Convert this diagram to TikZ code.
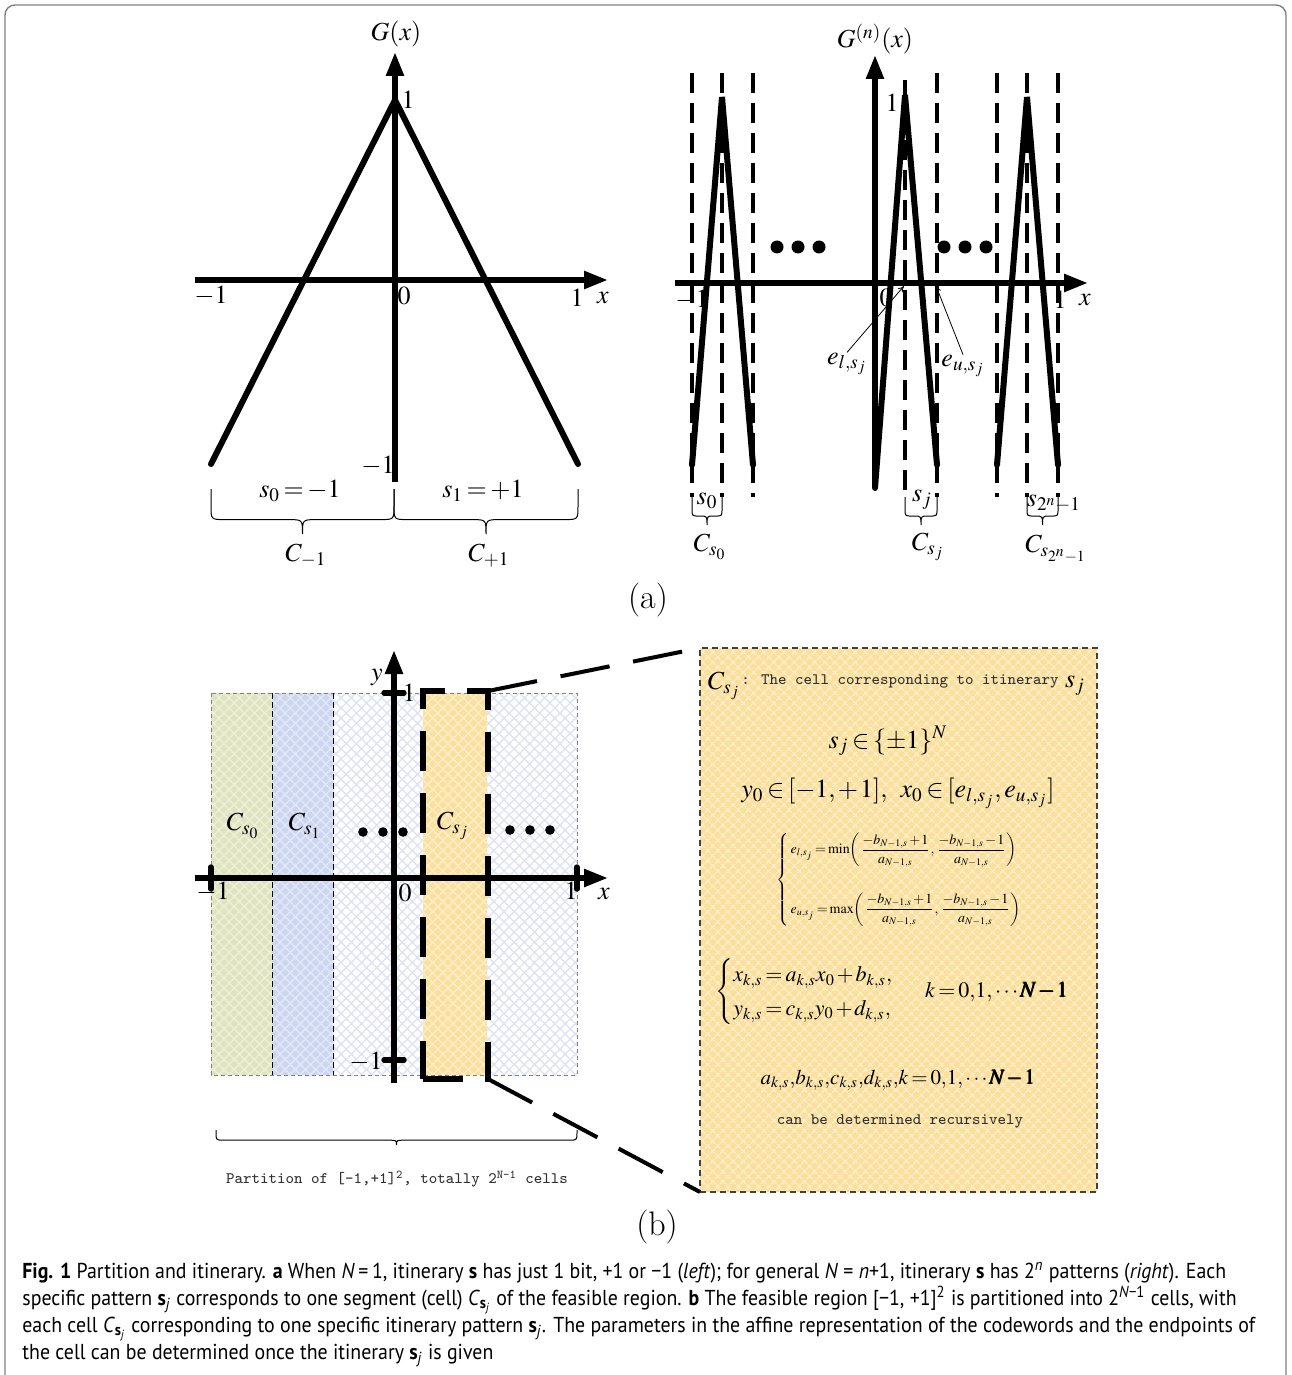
\documentclass[tikz,border=0pt]{standalone}
\usepackage{amsmath}
\usepackage{mathptmx}
\usepackage[no-math]{fontspec}
\renewcommand{\rmdefault}{lmr}
\newfontfamily\capfont[FakeStretch=0.92]{PT Sans}
\usetikzlibrary{arrows.meta,patterns.meta}

\definecolor{cellgreen}{HTML}{DFE3BE}
\definecolor{cellblue}{HTML}{CCD6F0}
\definecolor{cellyellow}{HTML}{FBE09D}
\definecolor{hatchblue}{HTML}{DDE3F3}
\definecolor{framegray}{HTML}{7F7F7F}
\definecolor{monogray}{HTML}{303030}

\newcommand{\tightmath}{\thickmuskip=2.5mu\medmuskip=1.5mu}

\tikzset{
  thickline/.style={line width=3pt, line cap=round},
  axisline/.style={line width=2.7pt, -{Triangle[length=12pt,width=8.5pt]}},
  tickline/.style={line width=2.7pt, line cap=round},
  celldash/.style={line width=2pt, dash pattern=on 10pt off 5pt},
  framedash/.style={line width=2.6pt, dash pattern=on 20pt off 11pt},
  zoomdash/.style={line width=2pt, dash pattern=on 25pt off 12pt},
  thinbrace/.style={line width=0.5pt},
  thinarrow/.style={line width=0.4pt, -{To[length=3pt,width=3pt]}},
  lab/.style={inner sep=0pt, font=\fontsize{13}{15}\selectfont\tightmath},
  boxmath/.style={inner sep=0pt, font=\fontsize{13}{16}\selectfont\tightmath},
  monotext/.style={inner sep=0pt, text=monogray, font=\fontsize{8}{10}\selectfont\ttfamily},
  hatchcell/.style={pattern={Hatch[angle=45,distance=3.6pt,line width=0.7pt]}, pattern color=#1},
}

% brace opening downwards: [style] x1, x2, top, depth, corner
\newcommand{\cellbrace}[6][]{%
  \draw[#1] (#2,#4) -- (#2,#4+0.68*#5-#6)
    .. controls (#2,#4+0.68*#5) .. (#2+#6,#4+0.68*#5)
    -- ({(#2+#3)/2-#6},#4+0.68*#5)
    .. controls ({(#2+#3)/2},#4+0.68*#5) .. ({(#2+#3)/2},#4+#5)
    .. controls ({(#2+#3)/2},#4+0.68*#5) .. ({(#2+#3)/2+#6},#4+0.68*#5)
    -- (#3-#6,#4+0.68*#5)
    .. controls (#3,#4+0.68*#5) .. (#3,#4+0.68*#5-#6) -- (#3,#4);}

\begin{document}
\begin{tikzpicture}[x=0.5pt, y=-0.5pt]
    \useasboundingbox (0,0) rectangle (1291,1375);
    \draw[framegray, line width=0.7pt, rounded corners=5pt] (5,5) rectangle (1286,1420);

    % Panel (a), left
    \coordinate (Lxl) at (195,280);
    \coordinate (Lxr) at (608,280);
    \coordinate (Lyb) at (395,482);
    \coordinate (Lyt) at (395,52);
    \coordinate (Lpk) at (395,100);
    \coordinate (Lbl) at (211,464);
    \coordinate (Lbr) at (578,464);
    \draw[axisline] (Lxl) -- (Lxr);
    \draw[axisline] (Lyb) -- (Lyt);
    \draw[thickline] (Lbl) -- (Lpk) -- (Lbr);

    \node[lab] (LG) at (396,34) {$G(x)$};
    \node[lab] (Lone) at (408,100) {$1$};
    \node[lab] (Lxm) at (211,296) {$-1$};
    \node[lab] (Lzero) at (404,296) {$0$};
    \node[lab] (Lxp) at (577,298) {$1$};
    \node[lab] (Lx) at (603,298) {$x$};
    \node[lab] (Lym) at (378,466) {$-1$};

    \cellbrace[thinbrace]{211}{394}{489}{45}{14}
    \cellbrace[thinbrace]{394}{578}{489}{45}{14}
    \node[lab] (Ls0) at (300,491) {$s_0=-1$};
    \node[lab] (Ls1) at (483,491) {$s_1=+1$};
    \node[lab] (LC0) at (306,556) {$C_{-1}$};
    \node[lab] (LC1) at (489,556) {$C_{+1}$};

    % Panel (a), right
    \foreach \xd in {692,722,753,937,997,1027,1058}
        \draw[celldash] (\xd,73) -- (\xd,497);
    \draw[celldash] (905,80) -- (905,497);

    \coordinate (Rxl) at (675,283);
    \coordinate (Rxr) at (1088,283);
    \coordinate (Ryb) at (875,488);
    \coordinate (Ryt) at (875,55);
    \draw[axisline] (Rxl) -- (Rxr);
    \draw[axisline] (Ryb) -- (Ryt);
    \draw[thickline] (692,465) -- (722,97) -- (753,465);
    \draw[thickline] (Ryb) -- (905,95) -- (937,465);
    \draw[thickline] (997,465) -- (1027,97) -- (1058,465);

    \foreach \d in {-21,0,21} {
        \fill (798+\d,247) circle (6.5);
        \fill (965+\d,247) circle (6.5);
    }

    \node[lab] (RG) at (875,39) {$G^{(n)}(x)$};
    \node[lab] (Rone) at (892,103) {$1$};
    \node[lab] (Rxm) at (692,300) {$-1$};
    \node[lab] (Rzero) at (886,298) {$0$};
    \node[lab] (Rxp) at (1060,300) {$1$};
    \node[lab] (Rx) at (1085,300) {$x$};

    \node[lab] (el) at (847,364) {$e_{l,s_j}$};
    \node[lab] (eu) at (963,366) {$e_{u,s_j}$};
    \coordinate (elpt) at (904,286);
    \coordinate (eupt) at (936,286);
    \draw[thinarrow] (el.north) -- (elpt);
    \draw[thinarrow] (eu.north) -- (eupt);

    \cellbrace[thinbrace]{692}{722}{497}{28}{7}
    \cellbrace[thinbrace]{905}{937}{497}{28}{7}
    \cellbrace[thinbrace]{1027}{1058}{497}{28}{7}
    \node[lab] (Rs0) at (707,501) {$s_0$};
    \node[lab] (Rsj) at (922,500) {$s_j$};
    \node[lab] (Rsn) at (1054,504) {$s_{2^n-1}$};
    \node[lab] (RC0) at (710,547) {$C_{s_0}$};
    \node[lab] (RCj) at (928,547) {$C_{s_j}$};
    \node[lab] (RCn) at (1056,549) {$C_{s_{2^n-1}}$};

    \node[inner sep=0pt, font=\fontsize{17}{20}\selectfont] (tagA) at (648,600) {(a)};

    % Panel (b), left: cells
    \fill[cellgreen] (211,693) rectangle (272,1075);
    \fill[cellblue] (272,693) rectangle (333,1075);
    \fill[cellyellow] (423,693) rectangle (487,1075);
    \fill[hatchcell=white!45!cellgreen] (211,693) rectangle (272,1075);
    \fill[hatchcell=white!45!cellblue] (272,693) rectangle (333,1075);
    \fill[hatchcell=hatchblue] (333,693) rectangle (423,1075);
    \fill[hatchcell=white!45!cellyellow] (423,693) rectangle (487,1075);
    \fill[hatchcell=hatchblue] (487,693) rectangle (577,1075);
    \draw[gray, line width=0.4pt, dash pattern=on 2pt off 1.5pt] (211,693) rectangle (577,1075);
    \draw[line width=0.5pt, dash pattern=on 3pt off 1.5pt] (272,693) -- (272,1075);
    \draw[line width=0.5pt, dash pattern=on 3pt off 1.5pt] (333,693) -- (333,1075);

    \coordinate (Bxl) at (195,878);
    \coordinate (Bxr) at (608,878);
    \coordinate (Byb) at (394,1083);
    \coordinate (Byt) at (394,650);
    \draw[axisline] (Bxl) -- (Bxr);
    \draw[axisline] (Byb) -- (Byt);
    \draw[tickline] (211,867) -- (211,889);
    \draw[tickline] (577,867) -- (577,889);
    \draw[tickline] (384,693) -- (404,693);
    \draw[tickline] (384,1060) -- (404,1060);

    \node[lab] (By) at (377,677) {$y$};
    \node[lab] (Byp) at (409,693) {$1$};
    \node[lab] (Bxm) at (213,892) {$-1$};
    \node[lab] (Bzero) at (405,893) {$0$};
    \node[lab] (Bxp) at (571,891) {$1$};
    \node[lab] (Bx) at (604,894) {$x$};
    \node[lab] (Bym) at (366,1062) {$-1$};

    \node[lab] (BC0) at (243,826) {$C_{s_0}$};
    \node[lab] (BC1) at (305,826) {$C_{s_1}$};
    \node[lab] (BCj) at (453,826) {$C_{s_j}$};
    \foreach \d in {-20,0,20} {
        \fill (383+\d,832) circle (4.8);
        \fill (530+\d,830) circle (4.8);
    }

    \node[framedash, draw, inner sep=0pt, outer sep=0pt,
          minimum width=32.5pt, minimum height=194pt] (sjcell) at (455.5,885) {};

    \cellbrace[thinbrace]{216}{577}{1130}{15}{8}
    \node[monotext] (partition) at (397,1179)
        {Partition of [-1,+1]\textsuperscript{2}, totally 2\textsuperscript{N-1} cells};

    % Panel (b), right: zoomed cell
    \node[preaction={fill=cellyellow}, hatchcell=white!45!cellyellow,
          draw=black!75, line width=0.6pt, dash pattern=on 3pt off 2pt,
          inner sep=0pt, outer sep=0pt,
          minimum width=198.5pt, minimum height=272pt] (bigbox) at (898.5,920) {};
    \draw[zoomdash] (sjcell.north east) -- (bigbox.north west);
    \draw[zoomdash] (sjcell.south east) -- (bigbox.south west);

    \node[boxmath] (bxC) at (724,686) {$C_{s_j}$};
    \node[monotext, anchor=west] (bxtitle) at (741,681) {: The cell corresponding to itinerary};
    \node[boxmath] (bxs) at (1075,686) {$s_j$};
    \node[boxmath] (bxset) at (888,741) {$s_j\in\{\pm1\}^N$};
    \node[boxmath] (bxdom) at (898,793) {$y_0\in[-1{,}+1],\;\;\, x_0\in[e_{l,s_j},e_{u,s_j}]$};
    \node[inner sep=0pt, font=\fontsize{7}{8.5}\selectfont\tightmath] (bxends) at (900,880)
        {$\left\{\,\begin{array}{@{}l@{}}
          e_{l,s_j}=\min\!\left(\dfrac{-b_{N-1,s}+1}{a_{N-1,s}},\dfrac{-b_{N-1,s}-1}{a_{N-1,s}}\right)\\[17pt]
          e_{u,s_j}=\max\!\left(\dfrac{-b_{N-1,s}+1}{a_{N-1,s}},\dfrac{-b_{N-1,s}-1}{a_{N-1,s}}\right)
        \end{array}\right.$};
    \node[inner sep=0pt, font=\fontsize{11}{14}\selectfont\tightmath] (bxaff) at (892,992)
        {$\begin{cases} x_{k,s}=a_{k,s}x_0+b_{k,s},\\ y_{k,s}=c_{k,s}y_0+d_{k,s},\end{cases}\;\; k=0{,}1{,}\cdots\pmb{N-1}$};
    \node[inner sep=0pt, font=\fontsize{10.5}{13}\selectfont\tightmath] (bxpar) at (898,1080)
        {$a_{k,s}{,}b_{k,s}{,}c_{k,s}{,}d_{k,s}{,}k=0{,}1{,}\cdots\pmb{N-1}$};
    \node[monotext] (bxrec) at (900,1121) {can be determined recursively};

    \node[inner sep=0pt, font=\fontsize{17}{20}\selectfont] (tagB) at (657,1227) {(b)};

    % Caption
    \node[anchor=north west, inner sep=0pt, align=left,
          font=\capfont\fontsize{10.8}{13.5}\selectfont] (caption) at (22,1262)
      {\textbf{Fig. 1} Partition and itinerary. \textbf{a} When \textit{N}\,=\,1, itinerary \textbf{s} has just 1 bit, +1 or −1 (\textit{left}); for general \textit{N} = \textit{n}+1, itinerary \textbf{s} has 2\textsuperscript{\textit{n}} patterns (\textit{right}). Each\\
       specific pattern \textbf{s}\textsubscript{\textit{j}} corresponds to one segment (cell) \textit{C}\textsubscript{\textbf{s}\textsubscript{\textit{j}}} of the feasible region. \textbf{b} The feasible region [−1, +1]\textsuperscript{2} is partitioned into 2\textsuperscript{\textit{N}−1} cells, with\\
       each cell \textit{C}\textsubscript{\textbf{s}\textsubscript{\textit{j}}} corresponding to one specific itinerary pattern \textbf{s}\textsubscript{\textit{j}}. The parameters in the affine representation of the codewords and the endpoints of\\
       the cell can be determined once the itinerary \textbf{s}\textsubscript{\textit{j}} is given};
\end{tikzpicture}
\end{document}
